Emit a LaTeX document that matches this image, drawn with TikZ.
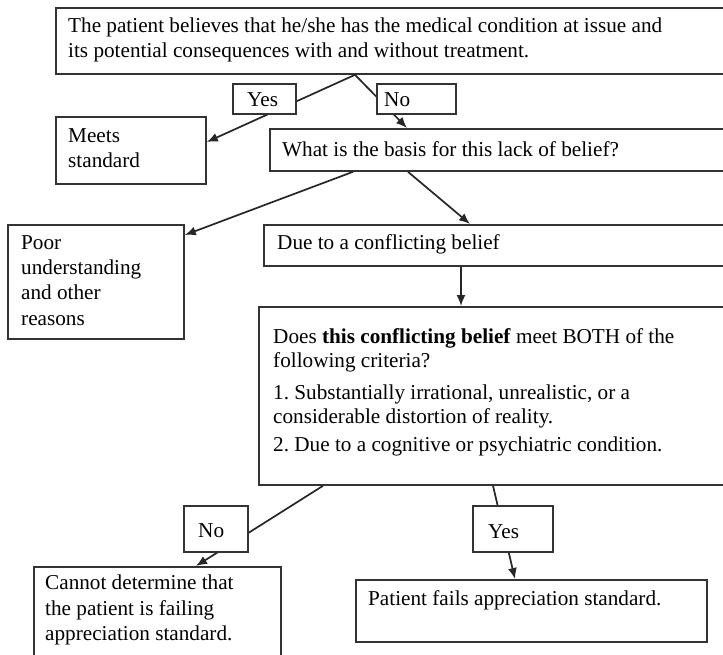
\documentclass[tikz,border=0pt]{standalone}
\usepackage{fontspec}
\setmainfont{Liberation Serif}
\usetikzlibrary{arrows.meta,calc}
\frenchspacing
\begin{document}
\begin{tikzpicture}[x=1pt,y=-1pt,
  box/.style={draw=black!80, line width=1.8pt, fill=white, rectangle, inner sep=0pt, anchor=north west},
  txt/.style={anchor=base west, inner sep=0pt, font=\fontsize{21.2}{25}\selectfont\frenchspacing},
  conn/.style={draw=black!85, line width=1.7pt},
  arr/.style={conn, -{Latex[length=11pt,width=9pt]}}]
\clip (0,0) rectangle (723,654);
% main boxes
\node[box, minimum width=690pt, minimum height=66pt] (top) at (55,7) {};
\node[box, minimum width=150pt, minimum height=67pt] (meets) at (55,116) {};
\node[box, minimum width=480pt, minimum height=42pt] (what) at (269,128) {};
\node[box, minimum width=176pt, minimum height=114pt] (poor) at (7,224) {};
\node[box, minimum width=480pt, minimum height=41pt] (due) at (263,224) {};
\node[box, minimum width=490pt, minimum height=178pt] (does) at (258,306) {};
\node[box, minimum width=247pt, minimum height=100pt] (cannot) at (33,566) {};
\node[box, minimum width=351pt, minimum height=62pt] (pfail) at (355,579) {};
% connector end points
\coordinate (apex) at ($(top.south west)+(300,0)$);
\coordinate (meetsIn) at ($(meets.north east)+(0,26)$);
\coordinate (whatIn) at ($(what.north west)+(138,0)$);
\coordinate (whatL) at ($(what.south west)+(84,0)$);
\coordinate (poorIn) at ($(poor.north east)+(0,11)$);
\coordinate (whatR) at ($(what.south west)+(139,0)$);
\coordinate (dueIn) at ($(due.north west)+(207,0)$);
\coordinate (dueOut) at ($(due.south west)+(198,0)$);
\coordinate (doesIn) at ($(does.north west)+(203,0)$);
\coordinate (doesL) at ($(does.south west)+(65,0)$);
\coordinate (cannotIn) at ($(cannot.north west)+(163,0)$);
\coordinate (doesR) at ($(does.south west)+(235,0)$);
\coordinate (pfailIn) at ($(pfail.north west)+(160,0)$);
% connectors
\draw[arr] (apex) -- (meetsIn);
\draw[arr] (apex) -- (whatIn);
\draw[arr] (whatL) -- (poorIn);
\draw[arr] (whatR) -- (dueIn);
\draw[arr] (dueOut) -- (doesIn);
\draw[arr] (doesL) -- (cannotIn);
\draw[arr] (doesR) -- (pfailIn);
% label boxes
\node[box, minimum width=63pt, minimum height=30pt] (yes1) at (232,83) {};
\node[box, minimum width=79pt, minimum height=30pt] (no1) at (376,83) {};
\node[box, minimum width=64pt, minimum height=46pt] (no2) at (183,505) {};
\node[box, minimum width=80pt, minimum height=46pt] (yes2) at (472,505) {};
% texts
\node[txt] (t1) at (68,32) {The patient believes that he/she has the medical condition at issue and};
\node[txt] (t2) at (68,57.5) {its potential consequences with and without treatment.};
\node[txt] (yes1t) at (247,106) {Yes};
\node[txt] (no1t) at (384,106) {No};
\node[txt] (m1) at (68,142.5) {Meets};
\node[txt] (m2) at (68,167.5) {standard};
\node[txt] (w1) at (282,156) {What is the basis for this lack of belief?};
\node[txt] (p1) at (21,249) {Poor};
\node[txt] (p2) at (21,274.5) {understanding};
\node[txt] (p3) at (21,299.5) {and other};
\node[txt] (p4) at (21,325) {reasons};
\node[txt] (d1) at (277,249) {Due to a conflicting belief};
\node[txt] (q1) at (273,343) {Does \textbf{this conflicting belief} meet BOTH of the};
\node[txt] (q2) at (273,367) {following criteria?};
\node[txt] (q3) at (273,399) {1. Substantially irrational, unrealistic, or a};
\node[txt] (q4) at (273,423.5) {considerable distortion of reality.};
\node[txt] (q5) at (273,451.5) {2. Due to a cognitive or psychiatric condition.};
\node[txt] (no2t) at (198,537.5) {No};
\node[txt] (yes2t) at (488,538) {Yes};
\node[txt] (c1) at (45,589.5) {Cannot determine that};
\node[txt] (c2) at (45,615) {the patient is failing};
\node[txt] (c3) at (45,640.5) {appreciation standard.};
\node[txt] (f1) at (368,605) {Patient fails appreciation standard.};
\end{tikzpicture}
\end{document}
